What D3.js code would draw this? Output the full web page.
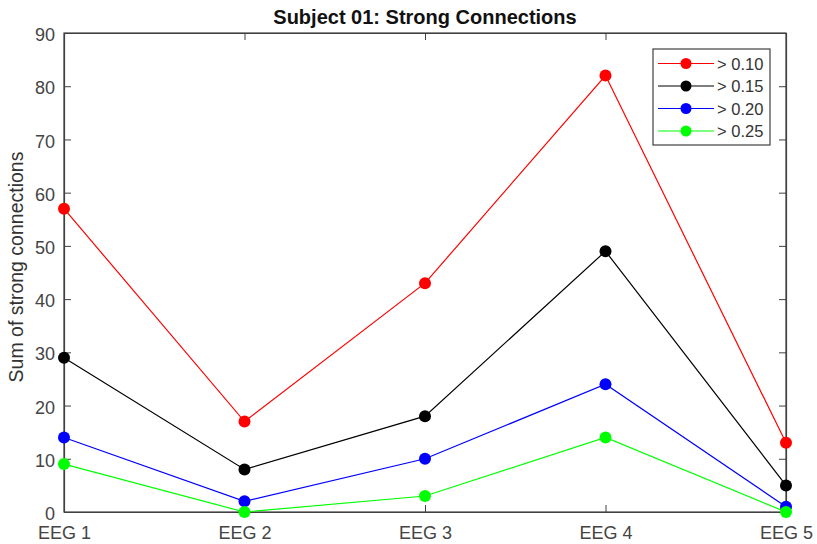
<!DOCTYPE html>
<html><head><meta charset="utf-8">
<script src="https://cdn.jsdelivr.net/npm/d3@7"></script>
<style>body{margin:0;background:#fff;} text{font-family:"Liberation Sans",Arial,sans-serif;}</style>
</head><body><svg id="c" width="817" height="544"></svg>
<script>
const categories = ["EEG 1","EEG 2","EEG 3","EEG 4","EEG 5"];
const seriesNames = ["> 0.10","> 0.15","> 0.20","> 0.25"];
const seriesColors = ["#ff0000","#000000","#0000ff","#00ff00"];
const s010 = [57,17,43,82,13];
const s015 = [29,8,18,49,5];
const s020 = [14,2,10,24,1];
const s025 = [9,0,3,14,0];
const yTicks = [0,10,20,30,40,50,60,70,80,90];
const series = [s010,s015,s020,s025];

const svg = d3.select("#c");
const L=64,R=786,T=33,B=512;
const x = d3.scalePoint().domain(categories).range([L,R]);
const y = d3.scaleLinear().domain([0,90]).range([B,T]);
const axisCol="#404040";

svg.append("rect").attr("x",L).attr("y",T).attr("width",R-L).attr("height",B-T)
  .attr("fill","#fff").attr("stroke",axisCol).attr("stroke-width",1.2);

const fs=18;
const ax1 = svg.append("g").attr("transform",`translate(${L},0)`)
  .call(d3.axisLeft(y).tickValues(yTicks).tickSizeInner(-7).tickSizeOuter(0).tickPadding(9));
const ax2 = svg.append("g").attr("transform",`translate(${R},0)`)
  .call(d3.axisRight(y).tickValues(yTicks).tickSizeInner(-7).tickSizeOuter(0).tickFormat(""));
const ax3 = svg.append("g").attr("transform",`translate(0,${B})`)
  .call(d3.axisBottom(x).tickSizeInner(-7).tickSizeOuter(0).tickPadding(14.5));
const ax4 = svg.append("g").attr("transform",`translate(0,${T})`)
  .call(d3.axisTop(x).tickSizeInner(-7).tickSizeOuter(0).tickFormat(""));
[ax1,ax2,ax3,ax4].forEach(a=>{
  a.select(".domain").attr("stroke",axisCol).attr("stroke-width",1.2);
  a.selectAll(".tick line").attr("stroke",axisCol);
  a.selectAll("text").attr("fill","#444").style("font-size",fs+"px").style("font-family","Liberation Sans, Arial, sans-serif");
});
ax1.selectAll("text").attr("dy","0.42em");

svg.append("text").attr("transform","translate(23,267) rotate(-90)").attr("text-anchor","middle")
  .attr("fill","#333").style("font-size","19.5px").text("Sum of strong connections");
svg.append("text").attr("x",425).attr("y",23.5).attr("text-anchor","middle")
  .attr("fill","#111").style("font-size","20px").style("font-weight","bold").text("Subject 01: Strong Connections");

const line = d3.line().x((d,i)=>x(categories[i])).y(d=>y(d));
series.forEach((s,k)=>{
  svg.append("path").datum(s).attr("d",line).attr("fill","none").attr("stroke",seriesColors[k]).attr("stroke-width",1.2);
});
series.forEach((s,k)=>{
  svg.selectAll(null).data(s).enter().append("circle")
    .attr("cx",(d,i)=>x(categories[i])).attr("cy",d=>y(d)).attr("r",6).attr("fill",seriesColors[k]);
});

const lg = svg.append("g");
lg.append("rect").attr("x",653).attr("y",49).attr("width",117).attr("height",96)
  .attr("fill","#fff").attr("stroke",axisCol).attr("stroke-width",1.2);
const ly = d3.scalePoint().domain(seriesNames).range([63.5,131]);
seriesNames.forEach((n,k)=>{
  const yy=ly(n);
  lg.append("line").attr("x1",658).attr("x2",714).attr("y1",yy).attr("y2",yy).attr("stroke",seriesColors[k]).attr("stroke-width",1.2);
  lg.append("circle").attr("cx",686).attr("cy",yy).attr("r",5.5).attr("fill",seriesColors[k]);
  lg.append("text").attr("x",717).attr("y",yy).attr("dy","0.38em").attr("fill","#333").style("font-size","16.5px").text(n);
});
</script></body></html>
